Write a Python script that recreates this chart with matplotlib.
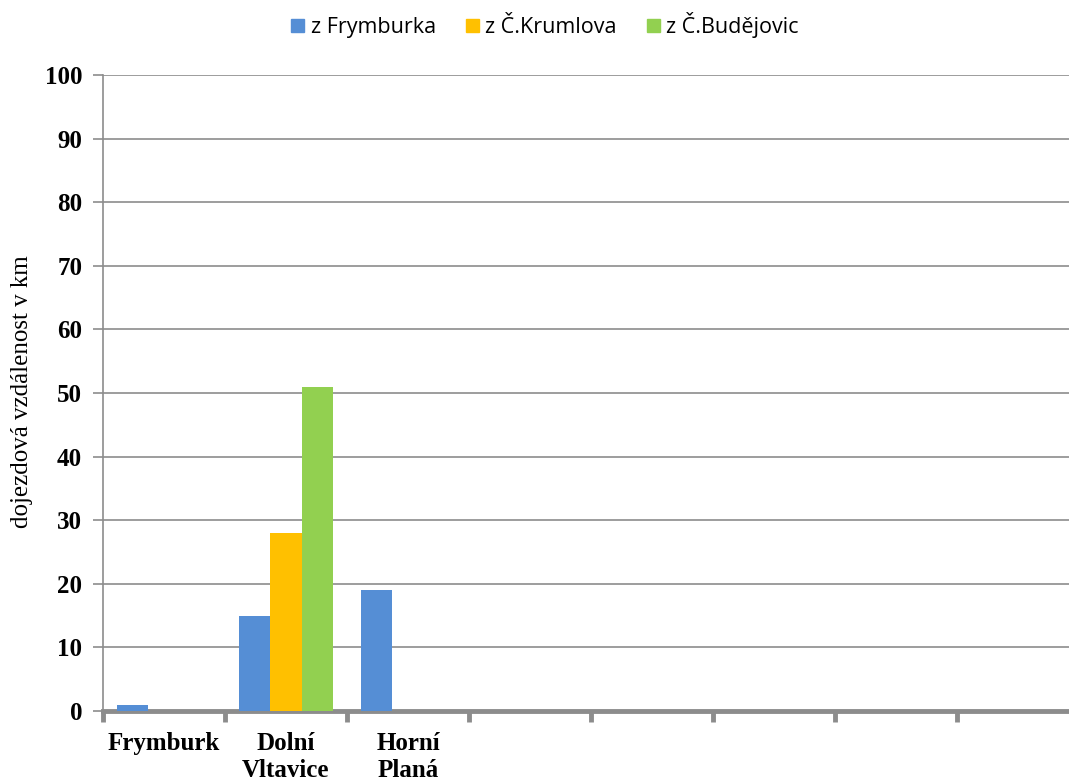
import numpy as np
import matplotlib
matplotlib.use('Agg')
import matplotlib.pyplot as plt
from matplotlib.patches import Patch

categories = ['Frymburk', 'Dolní\nVltavice', 'Horní\nPlaná', '', '', '', '', '']
z_frymburka = [1, 15, 19, 0, 0, 0, 0, 0]
z_krumlova = [0, 28, 0, 0, 0, 0, 0, 0]
z_budejovic = [0, 51, 0, 0, 0, 0, 0, 0]
series_names = ['z Frymburka', 'z Č.Krumlova', 'z Č.Budějovic']
colors = ['#558ED5', '#FFC000', '#92D050']
y_ticks = list(range(0, 101, 10))

W, H = 1069, 781
fig = plt.figure(figsize=(W / 100, H / 100), dpi=100)
# axes spans 103..1079 px horizontally (right edge cut off as in the original)
ax = fig.add_axes([103 / W, (H - 711) / H, (1079 - 103) / W, (711 - 75) / H])

x = np.arange(len(categories))
bw = 0.255
for i, (vals, c) in enumerate(zip([z_frymburka, z_krumlova, z_budejovic], colors)):
    v = np.array(vals, dtype=float)
    mask = v > 0
    ax.bar(x[mask] + (i - 1) * bw, v[mask], width=bw, color=c, zorder=3)

ax.set_xlim(-0.5, len(categories) - 0.5)
ax.set_ylim(0, 100)
ax.set_yticks(y_ticks)
ax.yaxis.grid(True, color='#8c8c8c', linewidth=1.2, zorder=0)
ax.set_axisbelow(True)

serif_bold = dict(family='Liberation Serif', fontweight='bold', fontsize=18)
ax.set_yticklabels([str(t) for t in y_ticks], **serif_bold)
ax.tick_params(axis='y', length=7, width=1.2, color='#8c8c8c', pad=8)

ax.set_xticks(np.arange(len(categories) + 1) - 0.5)
ax.set_xticklabels([])
ax.tick_params(axis='x', length=8, width=3.5, color='#8c8c8c')
for xi, lab in zip(x, categories):
    ax.text(xi, -3.3, lab, ha='center', va='top', linespacing=1.25,
            transform=ax.transData, clip_on=False, **serif_bold)

for s in ['top', 'right']:
    ax.spines[s].set_visible(False)
ax.spines['left'].set_color('#8c8c8c')
ax.spines['left'].set_linewidth(1.2)
ax.spines['bottom'].set_color('#8c8c8c')
ax.spines['bottom'].set_linewidth(3.5)

fig.text(22 / W, 1 - 392 / H, 'dojezdová vzdálenost v km', rotation=90,
         ha='center', va='center', family='Liberation Serif', fontsize=18)

handles = [Patch(color=c, label=n) for c, n in zip(colors, series_names)]
fig.legend(handles=handles, loc='center', bbox_to_anchor=(545 / W, 1 - 25 / H),
           ncol=3, frameon=False, prop={'family': 'Open Sans', 'size': 15.5},
           handlelength=0.6, handleheight=0.6, handletextpad=0.3, columnspacing=1.4)

fig.savefig('out.png', dpi=100)
